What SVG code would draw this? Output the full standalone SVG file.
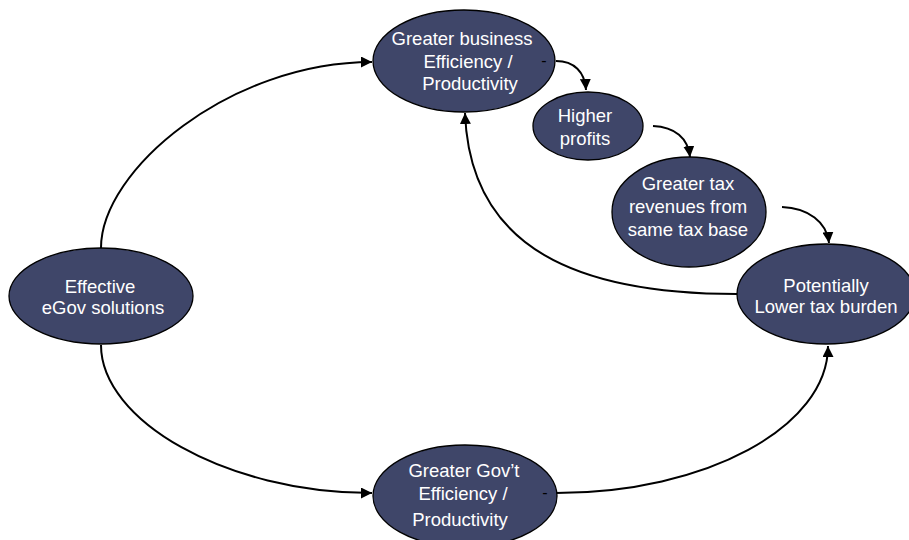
<svg xmlns="http://www.w3.org/2000/svg" width="909" height="540" viewBox="0 0 909 540">
  <style>
    .node { fill: #3f4669; stroke: #000; stroke-width: 1.3; }
    .label { fill: #ffffff; font-family: "Liberation Sans", Arial, sans-serif; font-size: 18.5px; text-anchor: middle; }
    .sign { fill: #000; font-family: "Liberation Sans", Arial, sans-serif; font-size: 16px; text-anchor: middle; }
    .link { fill: none; stroke: #000; stroke-width: 2; marker-end: url(#arrow); }
  </style>
  <defs>
    <marker id="arrow" markerUnits="userSpaceOnUse" markerWidth="13" markerHeight="11" refX="11" refY="5.5" orient="auto">
      <path d="M0,0 L11,5.5 L0,11 Z" fill="#000"/>
    </marker>
  </defs>
  <rect width="909" height="540" fill="#ffffff"/>

  <g id="connectors">
    <path class="link" d="M101,248 C101,170 230,62 372,62"/>
    <path class="link" d="M101,345 C101,420 225,493 372,493"/>
    <path class="link" d="M556,493 C706,493 828,427 828,346"/>
    <path class="link" d="M737,294 C580,294 470,250 465,113"/>
    <path class="link" d="M556,61 C574,61 585,72 586,90"/>
    <path class="link" d="M653,126 C675,127 688,138 690,157"/>
    <path class="link" d="M782,207 C808,208 827,222 829,243"/>
  </g>

  <g id="effective-egov">
    <ellipse class="node" cx="101" cy="296" rx="92" ry="48"/>
    <text class="label" x="100" y="293">Effective</text>
    <text class="label" x="103" y="314">eGov solutions</text>
  </g>

  <g id="business-efficiency">
    <ellipse class="node" cx="464" cy="61" rx="91" ry="51"/>
    <text class="label" x="462" y="45">Greater business</text>
    <text class="label" x="468" y="68">Efficiency /</text>
    <text class="label" x="470" y="90">Productivity</text>
    <text class="sign" x="544" y="66">-</text>
  </g>

  <g id="higher-profits">
    <ellipse class="node" cx="588" cy="126" rx="55" ry="34"/>
    <text class="label" x="585" y="122">Higher</text>
    <text class="label" x="585" y="145">profits</text>
  </g>

  <g id="tax-revenues">
    <ellipse class="node" cx="689" cy="212" rx="77" ry="55"/>
    <text class="label" x="688" y="190">Greater tax</text>
    <text class="label" x="688" y="213">revenues from</text>
    <text class="label" x="688" y="236">same tax base</text>
  </g>

  <g id="lower-tax-burden">
    <ellipse class="node" cx="826" cy="294" rx="89" ry="50"/>
    <text class="label" x="826" y="292">Potentially</text>
    <text class="label" x="826" y="313">Lower tax burden</text>
  </g>

  <g id="gov-efficiency">
    <ellipse class="node" cx="465" cy="496" rx="92" ry="51"/>
    <text class="label" x="464" y="477">Greater Gov’t</text>
    <text class="label" x="463" y="500">Efficiency /</text>
    <text class="label" x="460" y="526">Productivity</text>
    <text class="sign" x="545" y="498">-</text>
  </g>
</svg>
